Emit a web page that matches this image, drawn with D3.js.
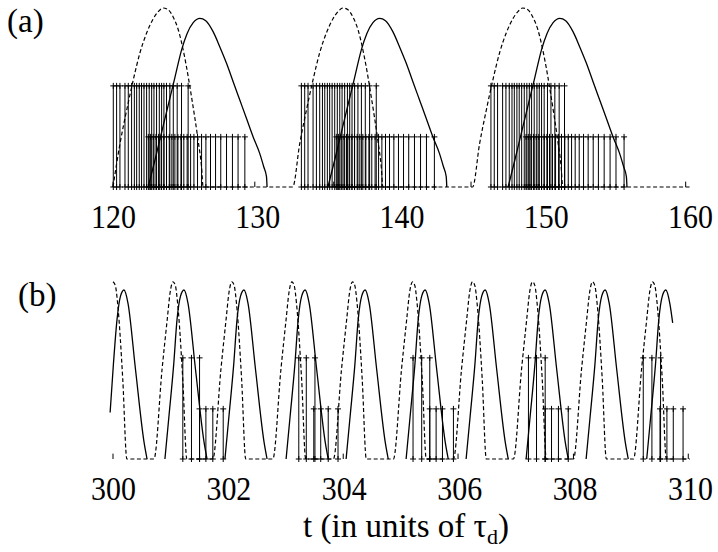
<!DOCTYPE html>
<html>
<head>
<meta charset="utf-8">
<script src="https://cdn.jsdelivr.net/npm/d3@7"></script>
<style>
  body { margin: 0; background: #fff; }
  text { font-family: "Liberation Serif", "Times New Roman", serif; fill: #000; }
</style>
</head>
<body>
<svg id="chart" width="718" height="552"></svg>
<script>
// ---------- data ----------
const ticksA = [120, 130, 140, 150, 160];
const ticksB = [300, 302, 304, 306, 308, 310];

const tallHeight = 0.565;
const shortHeight = 0.28;
const markHeight = 0.03;

// panel (a): dashed trace [t, value]
const dashedA = [
  [120.00,0],[120.48,0.24],[120.95,0.43],[121.41,0.60],[121.87,0.75],[122.33,0.86],[122.79,0.94],[123.14,0.98],[123.48,1.00],
  [123.83,0.99],[124.17,0.95],[124.52,0.88],[124.98,0.72],[125.45,0.50],[125.90,0.26],[126.14,0.11],[126.25,0],
  [132.46,0],[132.94,0.24],[133.41,0.43],[133.87,0.60],[134.33,0.75],[134.79,0.86],[135.25,0.94],[135.60,0.98],[135.94,1.00],
  [136.29,0.99],[136.63,0.95],[136.98,0.88],[137.44,0.72],[137.91,0.50],[138.36,0.26],[138.60,0.11],[138.71,0],
  [144.93,0],[145.41,0.24],[145.88,0.43],[146.34,0.60],[146.80,0.75],[147.26,0.86],[147.72,0.94],[148.07,0.98],[148.41,1.00],
  [148.76,0.99],[149.10,0.95],[149.45,0.88],[149.91,0.72],[150.38,0.50],[150.83,0.26],[151.07,0.11],[151.18,0],
  [160.00,0]
];

// panel (a): solid trace, one array per burst
const solidA = [
  [[122.44,0],[122.91,0.151],[123.37,0.305],[123.83,0.458],[124.29,0.611],[124.75,0.765],[125.14,0.858],[125.56,0.918],[126.02,0.942],
   [126.43,0.929],[126.94,0.868],[127.40,0.784],[127.87,0.691],[128.33,0.588],[128.79,0.486],[129.25,0.384],[129.71,0.281],
   [130.17,0.188],[130.45,0.113],[130.64,0.058],[130.68,0]],
  [[134.90,0],[135.37,0.151],[135.83,0.305],[136.29,0.458],[136.75,0.611],[137.21,0.765],[137.60,0.858],[138.02,0.918],[138.48,0.942],
   [138.89,0.929],[139.40,0.868],[139.86,0.784],[140.33,0.691],[140.79,0.588],[141.25,0.486],[141.71,0.384],[142.17,0.281],
   [142.63,0.188],[142.91,0.113],[143.10,0.058],[143.14,0]],
  [[147.39,0],[147.86,0.151],[148.32,0.305],[148.78,0.458],[149.24,0.611],[149.70,0.765],[150.09,0.858],[150.51,0.918],[150.97,0.942],
   [151.38,0.929],[151.89,0.868],[152.35,0.784],[152.82,0.691],[153.28,0.588],[153.74,0.486],[154.20,0.384],[154.66,0.281],
   [155.12,0.188],[155.40,0.113],[155.59,0.058],[155.63,0]]
];

// panel (a): spike times of the tall and short trains
const tallA = [
  120.02,120.25,120.48,120.83,121.06,121.29,121.48,121.64,121.82,121.98,122.15,122.33,122.51,122.68,122.84,123.02,123.21,123.37,123.53,123.71,123.94,124.18,124.45,124.75,125.21,
  133.06,133.29,133.52,133.87,134.10,134.33,134.52,134.68,134.86,135.02,135.19,135.37,135.55,135.72,135.88,136.06,136.25,136.41,136.57,136.75,136.98,137.22,137.49,137.79,138.25,
  146.20,146.43,146.66,147.01,147.24,147.47,147.66,147.82,148.00,148.16,148.33,148.51,148.69,148.86,149.02,149.20,149.39,149.55,149.71,149.89,150.12,150.36,150.63,150.93,151.30
];
const shortA = [
  122.45,122.61,122.79,122.98,123.16,123.34,123.53,123.71,123.90,124.08,124.29,124.50,124.71,124.91,125.14,125.38,125.61,125.86,126.14,126.44,126.76,127.11,127.47,127.87,128.28,128.67,129.14,
  135.48,135.64,135.82,136.01,136.19,136.37,136.56,136.74,136.93,137.11,137.32,137.53,137.74,137.94,138.17,138.41,138.64,138.89,139.17,139.47,139.79,140.14,140.50,140.90,141.32,141.73,142.28,
  148.63,148.79,148.97,149.16,149.34,149.52,149.71,149.89,150.08,150.26,150.47,150.68,150.89,151.09,151.32,151.56,151.79,152.04,152.32,152.62,152.94,153.29,153.65,154.05,154.46,154.87,155.43
];
const marksA = [120.0, 129.83, 135.3, 144.82, 159.7];

// panel (b): dashed trace [t, value]
const dashedB = [
  [300.00,0.99],[300.04,0.97],[300.08,0.87],[300.17,0.44],[300.24,0],
  [300.71,0],[300.85,0.50],[300.94,0.78],[300.99,0.93],[301.04,0.99],[301.08,0.97],[301.12,0.87],[301.21,0.44],[301.28,0],
  [301.73,0],[301.87,0.50],[301.96,0.78],[302.01,0.93],[302.06,0.99],[302.10,0.97],[302.14,0.87],[302.23,0.44],[302.30,0],
  [302.77,0],[302.91,0.50],[303.00,0.78],[303.05,0.93],[303.10,0.99],[303.14,0.97],[303.18,0.87],[303.27,0.44],[303.34,0],
  [303.82,0],[303.96,0.50],[304.05,0.78],[304.10,0.93],[304.15,0.99],[304.19,0.97],[304.23,0.87],[304.32,0.44],[304.39,0],
  [304.86,0],[305.00,0.50],[305.09,0.78],[305.14,0.93],[305.19,0.99],[305.23,0.97],[305.27,0.87],[305.36,0.44],[305.43,0],
  [305.90,0],[306.04,0.50],[306.13,0.78],[306.18,0.93],[306.23,0.99],[306.27,0.97],[306.31,0.87],[306.40,0.44],[306.47,0],
  [306.94,0],[307.08,0.50],[307.17,0.78],[307.22,0.93],[307.27,0.99],[307.31,0.97],[307.35,0.87],[307.44,0.44],[307.51,0],
  [307.98,0],[308.12,0.50],[308.21,0.78],[308.26,0.93],[308.31,0.99],[308.35,0.97],[308.39,0.87],[308.48,0.44],[308.55,0],
  [309.02,0],[309.16,0.50],[309.25,0.78],[309.30,0.93],[309.35,0.99],[309.39,0.97],[309.43,0.87],[309.52,0.44],[309.59,0],
  [310.00,0]
];

// panel (b): solid trace, one array per cycle
const solidB = [
  [[299.95,0.26],[300.005,0.52],[300.07,0.78],[300.13,0.91],[300.19,0.944],[300.26,0.87],[300.39,0.50],[300.54,0.09],[300.59,0]],
  [[300.90,0],[300.97,0.24],[301.05,0.52],[301.11,0.78],[301.17,0.91],[301.23,0.944],[301.30,0.87],[301.43,0.50],[301.58,0.09],[301.63,0]],
  [[301.94,0],[302.01,0.24],[302.09,0.52],[302.15,0.78],[302.21,0.91],[302.27,0.944],[302.34,0.87],[302.47,0.50],[302.62,0.09],[302.67,0]],
  [[303.00,0],[303.07,0.24],[303.15,0.52],[303.21,0.78],[303.27,0.91],[303.33,0.944],[303.40,0.87],[303.53,0.50],[303.68,0.09],[303.73,0]],
  [[304.04,0],[304.11,0.24],[304.19,0.52],[304.25,0.78],[304.31,0.91],[304.37,0.944],[304.44,0.87],[304.57,0.50],[304.72,0.09],[304.77,0]],
  [[305.08,0],[305.15,0.24],[305.23,0.52],[305.29,0.78],[305.35,0.91],[305.41,0.944],[305.48,0.87],[305.61,0.50],[305.76,0.09],[305.81,0]],
  [[306.12,0],[306.19,0.24],[306.27,0.52],[306.33,0.78],[306.39,0.91],[306.45,0.944],[306.52,0.87],[306.65,0.50],[306.80,0.09],[306.85,0]],
  [[307.16,0],[307.23,0.24],[307.31,0.52],[307.37,0.78],[307.43,0.91],[307.49,0.944],[307.56,0.87],[307.69,0.50],[307.84,0.09],[307.89,0]],
  [[308.20,0],[308.27,0.24],[308.35,0.52],[308.41,0.78],[308.47,0.91],[308.53,0.944],[308.60,0.87],[308.73,0.50],[308.88,0.09],[308.93,0]],
  [[309.25,0],[309.32,0.24],[309.40,0.52],[309.46,0.78],[309.52,0.91],[309.58,0.944],[309.65,0.87],[309.70,0.76]]
];

// panel (b): spike times
const tallB = [301.21,301.36,301.50, 303.22,303.35,303.50, 305.20,305.35,305.49, 307.20,307.34,307.49, 309.19,309.34,309.49];
const shortB = [301.50,301.61,301.73,301.91, 303.48,303.60,303.73,303.90, 305.49,305.60,305.71,305.90, 307.49,307.60,307.72,307.89, 309.48,309.60,309.71,309.88];
const marksB = [300.0, 303.99, 305.98, 307.98, 309.97];

// ---------- drawing ----------
const svg = d3.select("#chart");
const FONT = 34;
const SQUEEZE = "scale(0.88,1)";

function panel(cfg) {
  const { x, y, dashed, solid, tall, short, marks, ticks, labelY } = cfg;
  const g = svg.append("g");
  const line = d3.line().x(d => x(d[0])).y(d => y(d[1])).curve(d3.curveMonotoneX);

  // spikes: vertical stems with "+" markers at both ends
  function spikes(times, h) {
    g.append("g").selectAll("line").data(times).join("line")
      .attr("x1", d => x(d)).attr("x2", d => x(d))
      .attr("y1", y(0)).attr("y2", y(h))
      .attr("stroke", "#000").attr("stroke-width", 1);
    const pts = times.flatMap(t => [[t, h], [t, 0]]);
    g.append("g").selectAll("path").data(pts).join("path")
      .attr("d", d => `M${x(d[0]) - 3},${y(d[1])}h6M${x(d[0])},${y(d[1]) - 3}v6`)
      .attr("stroke", "#000").attr("stroke-width", 1).attr("fill", "none");
  }
  spikes(tall, tallHeight);
  spikes(short, shortHeight);

  // small marks on the baseline
  g.append("g").selectAll("line").data(marks).join("line")
    .attr("x1", d => x(d)).attr("x2", d => x(d))
    .attr("y1", y(0)).attr("y2", y(markHeight))
    .attr("stroke", "#000").attr("stroke-width", 1);

  g.append("path").datum(dashed).attr("d", line)
    .attr("fill", "none").attr("stroke", "#000").attr("stroke-width", 1.2)
    .attr("stroke-dasharray", "4,2.5");

  g.append("g").selectAll("path").data(solid).join("path").attr("d", line)
    .attr("fill", "none").attr("stroke", "#000").attr("stroke-width", 1.3);

  // axis: labels only
  const ax = g.append("g").attr("transform", `translate(0,${y(0)})`)
    .call(d3.axisBottom(x).tickValues(ticks).tickFormat(d3.format("d")).tickSize(0).tickPadding(labelY - y(0) - 0.71 * FONT));
  ax.select(".domain").remove();
  ax.selectAll("text")
    .attr("font-family", '"Liberation Serif", "Times New Roman", serif')
    .attr("font-size", FONT)
    .attr("transform", SQUEEZE);
}

const xA = d3.scaleLinear().domain([120, 160]).range([113, 690]);
const yA = d3.scaleLinear().domain([0, 1]).range([187, 8]);
const xB = d3.scaleLinear().domain([300, 310]).range([113, 690]);
const yB = d3.scaleLinear().domain([0, 1]).range([459, 280]);

panel({ x: xA, y: yA, dashed: dashedA, solid: solidA, tall: tallA, short: shortA, marks: marksA, ticks: ticksA, labelY: 228 });
panel({ x: xB, y: yB, dashed: dashedB, solid: solidB, tall: tallB, short: shortB, marks: marksB, ticks: ticksB, labelY: 500 });

// panel letters
svg.append("text").attr("x", 7).attr("y", 32).attr("font-size", 33).text("(a)");
svg.append("text").attr("x", 18).attr("y", 306).attr("font-size", 33).text("(b)");

// x-axis title
const title = svg.append("text").attr("x", 406).attr("y", 537)
  .attr("text-anchor", "middle").attr("font-size", 33);
title.append("tspan").text("t (in units of  τ");
title.append("tspan").attr("font-size", 22).attr("dy", 7).text("d");
title.append("tspan").attr("dy", -7).text(")");
</script>
</body>
</html>
